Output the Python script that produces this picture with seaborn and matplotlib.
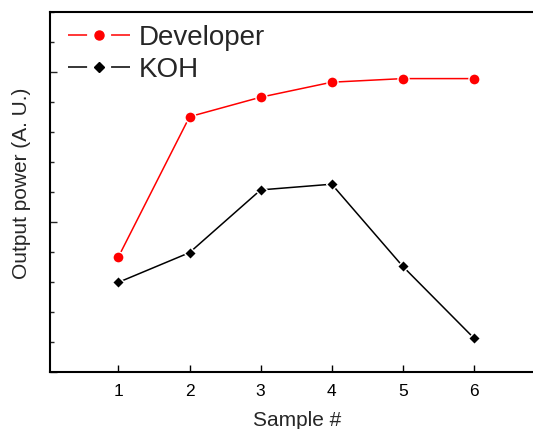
"""Output power vs sample number for Developer and KOH treatments."""

import matplotlib

matplotlib.use("Agg")
import matplotlib.pyplot as plt
from matplotlib.lines import Line2D
from matplotlib.ticker import MultipleLocator, NullFormatter
import pandas as pd
import seaborn as sns

samples = [1, 2, 3, 4, 5, 6]
developer = [3.84, 8.51, 9.16, 9.66, 9.78, 9.78]
koh = [2.99, 3.98, 6.07, 6.26, 3.52, 1.13]
series_names = ["Developer", "KOH"]

_DEV_COLOR = "#FF0000"
_KOH_COLOR = "#000000"

sns.set_style("ticks")
plt.rcParams["font.family"] = ["Liberation Sans", "DejaVu Sans"]
# keep the full canvas: the axes run past the right edge on purpose
plt.rcParams["savefig.bbox"] = "standard"

df = pd.concat(
    [
        pd.DataFrame({"sample": samples, "power": developer, "series": series_names[0]}),
        pd.DataFrame({"sample": samples, "power": koh, "series": series_names[1]}),
    ],
    ignore_index=True,
)

fig = plt.figure(figsize=(5.33, 4.29), dpi=100)
ax = fig.add_axes([50 / 533, 57 / 429, 495 / 533, 360 / 429])

sns.lineplot(
    data=df[df["series"] == "Developer"],
    x="sample",
    y="power",
    color=_DEV_COLOR,
    marker="o",
    markersize=8,
    markeredgecolor="white",
    markeredgewidth=1.0,
    linewidth=1.1,
    legend=False,
    ax=ax,
)
sns.lineplot(
    data=df[df["series"] == "KOH"],
    x="sample",
    y="power",
    color=_KOH_COLOR,
    marker="D",
    markersize=6,
    markeredgecolor="white",
    markeredgewidth=1.0,
    linewidth=1.1,
    legend=False,
    ax=ax,
)

ax.set_xlim(0.0366, 7.0)
ax.set_ylim(0, 12)
ax.set_xticks(samples)
ax.yaxis.set_major_locator(MultipleLocator(5))
ax.yaxis.set_minor_locator(MultipleLocator(1))
ax.yaxis.set_major_formatter(NullFormatter())

for side in ["left", "bottom", "top"]:
    ax.spines[side].set_linewidth(1.5)
    ax.spines[side].set_color("black")
ax.spines["right"].set_visible(False)

ax.tick_params(axis="x", which="major", direction="in", length=5, width=1.0,
               labelsize=12.5, pad=9, colors="black")
ax.tick_params(axis="y", which="major", direction="in", length=5, width=1.0)
ax.tick_params(axis="y", which="minor", direction="in", length=2.7, width=1.0)

ax.set_xlabel("Sample #", fontsize=15, labelpad=8)
ax.set_ylabel("Output power (A. U.)", fontsize=15)
ax.yaxis.set_label_coords(-0.038, 0.525)

handles = [
    Line2D([], [], color=_DEV_COLOR, marker="o", markersize=6.5, linewidth=1.1,
           linestyle=(0, (12.5, 15.7))),
    Line2D([], [], color=_KOH_COLOR, marker="D", markersize=5, linewidth=1.1,
           linestyle=(0, (12.5, 15.7))),
]
ax.legend(
    handles,
    series_names,
    loc="upper left",
    bbox_to_anchor=(0.0364, 0.964),
    frameon=False,
    fontsize=20,
    handlelength=2.23,
    handletextpad=0.32,
    labelspacing=0.22,
    borderpad=0,
    borderaxespad=0,
)

fig.savefig("out.png", dpi=100, bbox_inches=None)
plt.close(fig)
